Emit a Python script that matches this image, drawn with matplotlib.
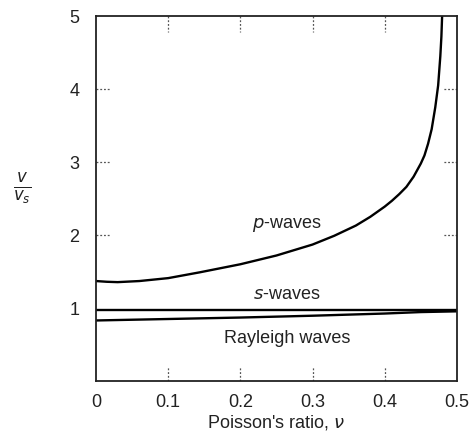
import numpy as np
import matplotlib.pyplot as plt
import matplotlib.transforms as mtransforms

plt.rcParams['font.family'] = ['Liberation Sans', 'DejaVu Sans']
plt.rcParams['mathtext.fontset'] = 'dejavusans'

# values
nu_p = [0.0, 0.015, 0.03, 0.06, 0.1, 0.144, 0.2, 0.25, 0.3, 0.33, 0.36, 0.38, 0.4, 0.41,
        0.42, 0.43, 0.44, 0.45, 0.455, 0.46, 0.465, 0.47, 0.474, 0.477, 0.4785, 0.4795]
vp = [1.37, 1.36, 1.355, 1.37, 1.41, 1.49, 1.60, 1.72, 1.87, 1.99, 2.13, 2.25, 2.39, 2.47,
      2.56, 2.66, 2.80, 2.98, 3.09, 3.25, 3.45, 3.75, 4.05, 4.45, 4.72, 5.0]
nu_s = [0.0, 0.5]
vs = [0.97, 0.97]
nu_r = [0.0, 0.1, 0.2, 0.3, 0.4, 0.45, 0.5]
vr = [0.83, 0.85, 0.87, 0.895, 0.925, 0.945, 0.955]

xticks = [0, 0.1, 0.2, 0.3, 0.4, 0.5]
xlabels = ['0', '0.1', '0.2', '0.3', '0.4', '0.5']
yticks = [1, 2, 3, 4, 5]
inner_x = [0.1, 0.2, 0.3, 0.4]
inner_y = [2, 3, 4]

fig = plt.figure(figsize=(4.73, 4.34), dpi=100)
ax = fig.add_axes([0.203, 0.122, 0.763, 0.841])

ax.plot(nu_p, vp, color='black', lw=1.7, solid_joinstyle='round')
ax.plot(nu_s, vs, color='black', lw=1.7)
ax.plot(nu_r, vr, color='black', lw=1.7)

ax.set_xlim(0, 0.5)
ax.set_ylim(0, 5)

# short dotted inward ticks
tx = mtransforms.blended_transform_factory(ax.transData, ax.transAxes)
ty = mtransforms.blended_transform_factory(ax.transAxes, ax.transData)
for x in inner_x:
    ax.plot([x, x], [0, 0.04], transform=tx, color='#555555', lw=0.9, ls=(0, (1.5, 1.5)))
    ax.plot([x, x], [1, 0.955], transform=tx, color='#555555', lw=0.9, ls=(0, (1.5, 1.5)))
for y in inner_y:
    ax.plot([0, 0.042], [y, y], transform=ty, color='#555555', lw=0.9, ls=(0, (1.5, 1.5)))
    ax.plot([1, 0.958], [y, y], transform=ty, color='#555555', lw=0.9, ls=(0, (1.5, 1.5)))

ax.set_xticks(xticks)
ax.set_xticklabels(xlabels)
ax.set_yticks(yticks)
ax.tick_params(length=0, labelsize=13, colors='#222222')
ax.tick_params(axis='x', pad=9)
ax.tick_params(axis='y', pad=12)

for s in ax.spines.values():
    s.set_linewidth(1.3)
    s.set_color('#222222')

ax.text(0.265, 2.14, '$p$-waves', ha='center', va='center', fontsize=13, color='#222222')
ax.text(0.265, 1.18, '$s$-waves', ha='center', va='center', fontsize=13, color='#222222')
ax.text(0.265, 0.58, 'Rayleigh waves', ha='center', va='center', fontsize=13, color='#222222')

ax.set_xlabel("Poisson's ratio, $\\nu$", fontsize=13, color='#222222', labelpad=2)
fig.text(0.047, 0.565, r'$\frac{v}{v_s}$', fontsize=17, ha='center', va='center', color='#222222')

fig.savefig('out.png', dpi=100)
